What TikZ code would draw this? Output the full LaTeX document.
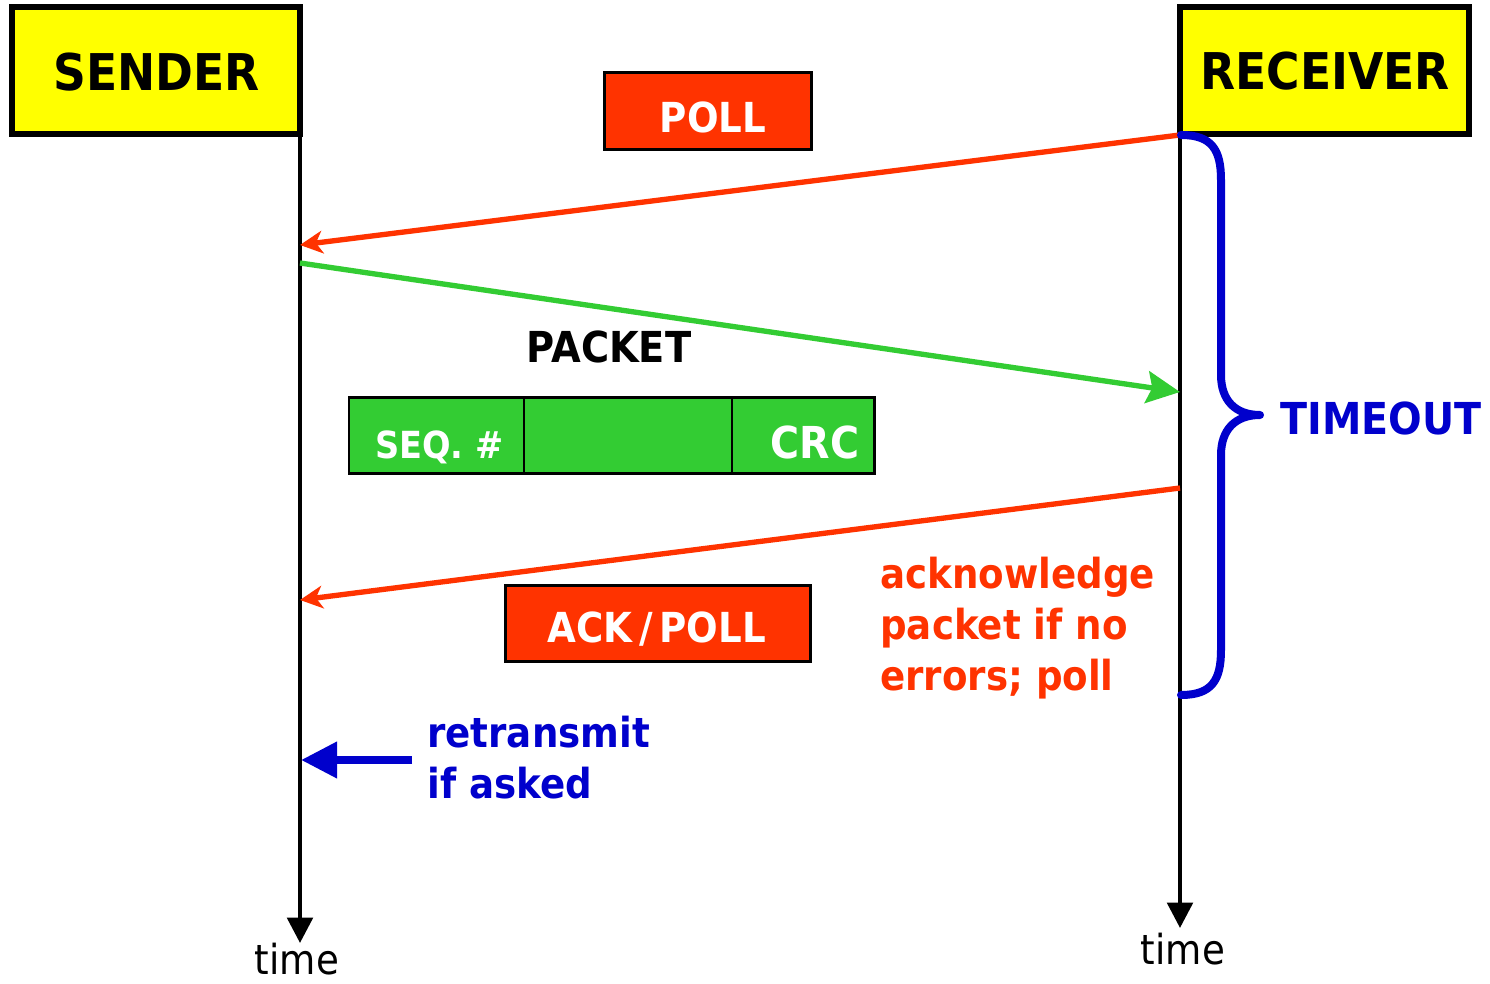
\documentclass[tikz,border=0pt]{standalone}
\usepackage{fontspec}
\setmainfont{DejaVu Sans}[FakeStretch=0.9]
\usetikzlibrary{arrows.meta}
\definecolor{hdrYellow}{HTML}{FFFF00}
\definecolor{msgRed}{HTML}{FF3300}
\definecolor{pktGreen}{HTML}{33CC33}
\definecolor{noteBlue}{HTML}{0000CC}
\tikzset{
  hdrbox/.style={draw=black, line width=4.5pt, fill=hdrYellow, inner sep=0pt, outer sep=0pt},
  msgbox/.style={draw=black, line width=2pt, fill=msgRed, inner sep=0pt, outer sep=0pt},
  fieldbox/.style={draw=black, line width=2pt, fill=pktGreen, inner sep=0pt, outer sep=0pt, minimum height=57pt},
  txt/.style={inner sep=0pt, anchor=base},
  hdrtxt/.style={txt, font=\bfseries\fontsize{38}{46}\selectfont},
  lbltxt/.style={txt, font=\bfseries\fontsize{31}{38}\selectfont},
  timetxt/.style={txt, font=\fontsize{31}{38}\selectfont},
  timeline/.style={line width=3.2pt, -{Triangle[length=19pt,width=19pt]}},
  redmsg/.style={draw=msgRed, line width=4pt, -{Stealth[length=17pt,width=17pt,inset=5pt]}},
  greenmsg/.style={draw=pktGreen, line width=4pt, -{Stealth[length=25pt,width=24pt,inset=4pt]}},
}
\begin{document}
\begin{tikzpicture}[x=0.75pt, y=-0.75pt]
\useasboundingbox (0,0) rectangle (1490,984);

% endpoints
\node[hdrbox, minimum width=216pt, minimum height=95.25pt] (sender) at (156,71) {};
\node[hdrbox, minimum width=216.75pt, minimum height=95.25pt] (receiver) at (1324.5,71) {};
\node[hdrtxt] (senderlbl) at (156.5,91) {SENDER};
\node[hdrtxt] (receiverlbl) at (1325,90) {RECEIVER};

% time axes
\coordinate (sEnd) at (300,943);
\coordinate (rEnd) at (1180,928);
\draw[timeline] (sender.south east) -- (sEnd);
\draw[timeline] (receiver.south west) -- (rEnd);
\node[timetxt] (sTime) at (297,974) {time};
\node[timetxt] (rTime) at (1183,964) {time};

% points on the axes
\coordinate (rPoll) at (1180,135);
\coordinate (sPoll) at (300,245);
\coordinate (sPkt) at (300,263);
\coordinate (rPkt) at (1180,392);
\coordinate (rAck) at (1180,488);
\coordinate (sAck) at (300,600);
\coordinate (sRe) at (301,760);
\coordinate (reTail) at (412,760);
\coordinate (brTop) at (1181,135);
\coordinate (brBot) at (1181,695);

% poll
\node[msgbox, minimum width=155.25pt, minimum height=57.75pt] (poll) at (708,111) {};
\node[lbltxt, text=white] (polllbl) at (713,133) {POLL};
\draw[redmsg] (rPoll) -- (sPoll);

% packet
\draw[greenmsg] (sPkt) -- (rPkt);
\node[lbltxt, font=\bfseries\fontsize{32}{38}\selectfont] (pktlbl) at (609,363) {PACKET};
\node[fieldbox, minimum width=131.6pt] (seq) at (436.75,435.5) {};
\node[fieldbox, minimum width=156pt] (payload) at (628,435.5) {};
\node[fieldbox, minimum width=106.9pt] (crc) at (803.25,435.5) {};
\node[txt, anchor=base west, text=white, font=\bfseries\fontsize{28}{34}\selectfont] (seqlbl) at (375,459) {SEQ. \#};
\node[txt, text=white, font=\bfseries\fontsize{33}{40}\selectfont] (crclbl) at (815,459) {CRC};

% acknowledgement
\draw[redmsg] (rAck) -- (sAck);
\node[msgbox, minimum width=228.75pt, minimum height=57pt] (ack) at (658,623.5) {};
\node[lbltxt, text=white] (acklbl) at (656.5,642) {ACK\,/\,POLL};
\node[lbltxt, anchor=base west, text=msgRed, align=left] (acknote) at (880,690)
  {acknowledge\\packet if no\\errors; poll};

% timeout brace
\draw[noteBlue, line width=6pt, line cap=round, line join=round]
  (brTop) .. controls (1212,135) and (1221,150) .. (1221,180)
  -- (1221,375) .. controls (1221,400) and (1235,415) .. (1260,415)
  .. controls (1235,415) and (1221,430) .. (1221,455)
  -- (1221,650) .. controls (1221,680) and (1212,695) .. (brBot);
\node[lbltxt, anchor=base west, text=noteBlue, font=\bfseries\fontsize{33}{40}\selectfont] (timeout) at (1280,435) {TIMEOUT};

% retransmission
\draw[noteBlue, line width=6pt, -{Triangle[length=27pt,width=26pt]}] (reTail) -- (sRe);
\node[lbltxt, anchor=base west, text=noteBlue, align=left] (renote) at (427,798)
  {retransmit\\if asked};
\end{tikzpicture}
\end{document}
